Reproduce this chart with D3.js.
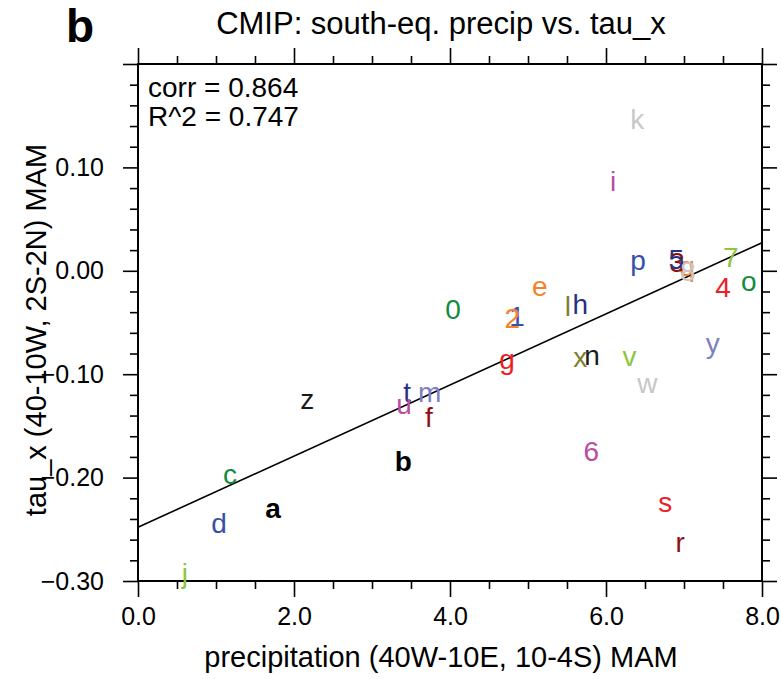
<!doctype html>
<html>
<head>
<meta charset="utf-8"/>
<script src="https://cdnjs.cloudflare.com/ajax/libs/d3/7.8.5/d3.min.js"></script>
<style>
  body { margin: 0; background: #fff; }
  svg text { font-family: "Liberation Sans", Arial, Helvetica, sans-serif; }
</style>
</head>
<body>
<svg id="chart" width="781" height="679"></svg>
<script>
// model labels, precipitation (x) and tau_x (y)
var labels = ["a","b","c","d","e","f","g","h","i","j","k","l","m","n","o","p","q","r","s","t","u","v","w","x","y","z","0","1","2","3","4","5","6","7","8"];
var precip = [1.73,3.40,1.18,1.04,5.15,3.73,4.73,5.67,6.09,0.60,6.40,5.51,3.74,5.82,7.83,6.41,7.04,6.95,6.76,3.45,3.41,6.30,6.53,5.67,7.37,2.17,4.04,4.86,4.80,6.91,7.50,6.90,5.81,7.60,7.05];
var taux   = [-0.230,-0.185,-0.197,-0.245,-0.015,-0.142,-0.086,-0.033,0.086,-0.293,0.146,-0.035,-0.118,-0.082,-0.011,0.010,0.004,-0.263,-0.224,-0.118,-0.130,-0.083,-0.109,-0.084,-0.071,-0.125,-0.038,-0.044,-0.046,0.008,-0.016,0.011,-0.175,0.013,-0.001];
var boldLabels = ["a","b"];
var palette = ["#138a3e","#3651ab","#f5822a","#8b1116","#ee1c25","#2b2f7f","#b84da3","#8dc63f","#c8c8c8","#7f7f32","#7b80c4","#1a1a1a"];
var xMajor = [0,2,4,6,8];
var yMajor = [-0.3,-0.2,-0.1,0.0,0.1,0.2];
var yTickLabels = ["-0.30","-0.20","-0.10","0.00","0.10",""];
var statText = ["corr = 0.864","R^2 = 0.747"];
// fitted line as drawn in the figure
var regIntercept = -0.248;
var regSlope = 0.0344;

var svg = d3.select("#chart");
var pLeft = 138, pRight = 762, pTop = 64, pBottom = 581;
var xScale = d3.scaleLinear().domain([0,8]).range([pLeft,pRight]);
var yScale = d3.scaleLinear().domain([-0.3,0.2]).range([pBottom,pTop]);

var xMinor = d3.range(0,8.01,0.5).filter(v => xMajor.indexOf(v) < 0);
var yMinor = d3.range(-0.3,0.201,0.02).map(v => +v.toFixed(2)).filter(v => yMajor.every(m => Math.abs(m-v) > 1e-6));

function tickGroup(axis, tr){
	var g = svg.append("g").attr("transform", tr).call(axis);
	g.select(".domain").remove();
	g.selectAll("line").attr("stroke","#000").attr("stroke-width",1.6);
	return g;
}
// major ticks
var bx = tickGroup(d3.axisBottom(xScale).tickValues(xMajor).tickSize(16).tickPadding(10).tickFormat(d3.format(".1f")), "translate(0,"+pBottom+")");
bx.selectAll("text").attr("font-size",25).attr("fill","#000");
tickGroup(d3.axisTop(xScale).tickValues(xMajor).tickSize(16).tickFormat(""), "translate(0,"+pTop+")");
var ly = tickGroup(d3.axisLeft(yScale).tickValues(yMajor).tickSize(15).tickPadding(19).tickFormat((d,i) => yTickLabels[i].replace("-","\u2212")), "translate("+pLeft+",0)");
ly.selectAll("text").attr("font-size",25).attr("fill","#000");
tickGroup(d3.axisRight(yScale).tickValues(yMajor).tickSize(15).tickFormat(""), "translate("+pRight+",0)");
// minor ticks
tickGroup(d3.axisBottom(xScale).tickValues(xMinor).tickSize(8).tickFormat(""), "translate(0,"+pBottom+")");
tickGroup(d3.axisTop(xScale).tickValues(xMinor).tickSize(8).tickFormat(""), "translate(0,"+pTop+")");
tickGroup(d3.axisLeft(yScale).tickValues(yMinor).tickSize(8).tickFormat(""), "translate("+pLeft+",0)");
tickGroup(d3.axisRight(yScale).tickValues(yMinor).tickSize(8).tickFormat(""), "translate("+pRight+",0)");

// frame
svg.append("rect").attr("x",pLeft).attr("y",pTop).attr("width",pRight-pLeft).attr("height",pBottom-pTop)
	.attr("fill","none").attr("stroke","#000").attr("stroke-width",2);

// regression line
var xDom = xScale.domain();
svg.append("line")
	.attr("x1", xScale(xDom[0])).attr("y1", yScale(regIntercept + regSlope*xDom[0]))
	.attr("x2", xScale(xDom[1])).attr("y2", yScale(regIntercept + regSlope*xDom[1]))
	.attr("stroke","#000").attr("stroke-width",1.6);

// point labels
svg.append("g").selectAll("text").data(labels).enter().append("text")
	.attr("x", (d,i) => xScale(precip[i]))
	.attr("y", (d,i) => yScale(taux[i]))
	.attr("dy","0.33em")
	.attr("text-anchor","middle")
	.attr("font-size",28)
	.attr("font-weight", d => boldLabels.indexOf(d) >= 0 ? "bold" : "normal")
	.attr("fill", (d,i) => i < 2 ? "#000" : palette[(i-2) % palette.length])
	.text(d => d);

// stats
svg.append("g").selectAll("text").data(statText).enter().append("text")
	.attr("x",148).attr("y",(d,i) => 97 + i*29)
	.attr("font-size",28).attr("fill","#000")
	.text(d => d);

// titles
svg.append("text").attr("x",441).attr("y",34).attr("text-anchor","middle").attr("font-size",31)
	.text("CMIP: south-eq. precip vs. tau_x");
svg.append("text").attr("x",66).attr("y",42).attr("font-size",46).attr("font-weight","bold")
	.text("b");
svg.append("text").attr("x",441).attr("y",667).attr("text-anchor","middle").attr("font-size",29)
	.text("precipitation (40W-10E, 10-4S) MAM");
svg.append("text").attr("transform","translate(46,330) rotate(-90)").attr("text-anchor","middle").attr("font-size",29)
	.text("tau_x (40-10W, 2S-2N) MAM");
</script>
</body>
</html>
